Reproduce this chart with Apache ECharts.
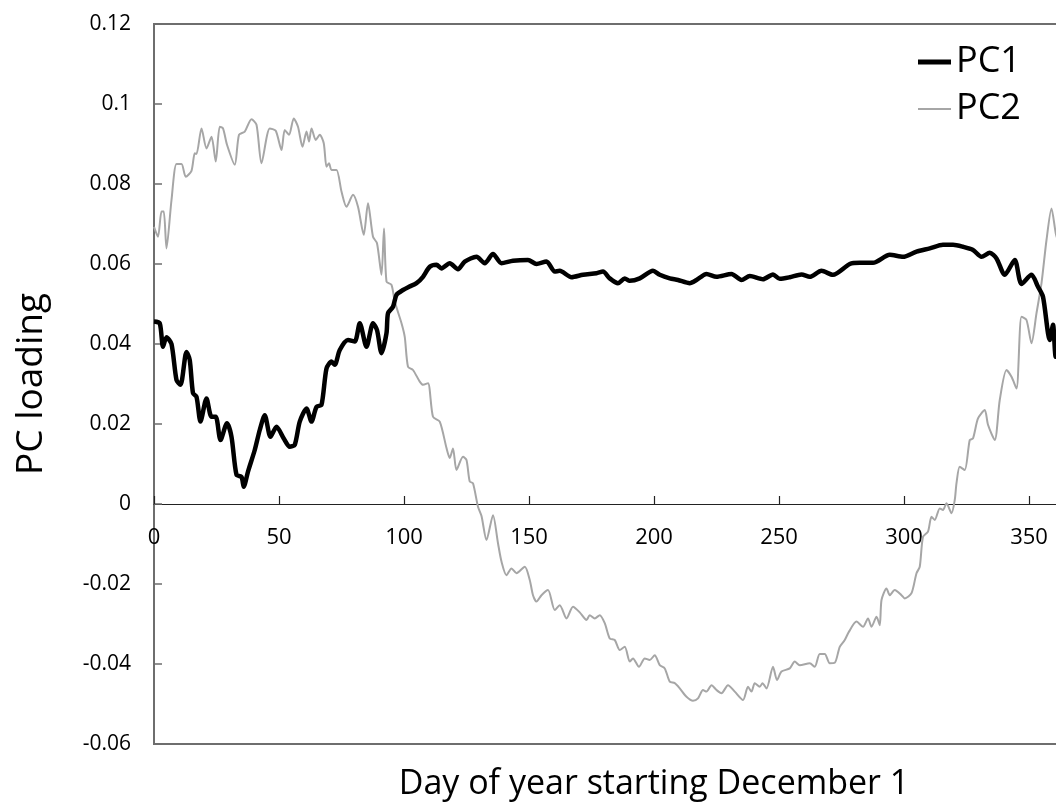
<!DOCTYPE html>
<html>
<head>
<meta charset="utf-8">
<script src="https://cdn.jsdelivr.net/npm/echarts@6/dist/echarts.min.js"></script>
<style>
html,body{margin:0;padding:0;background:#fff;}
#chart{width:1056px;height:808px;}
</style>
</head>
<body>
<div id="chart"></div>
<script>
// Day of year (starting December 1) for each PC1 reading
const pc1Days = [0,2.3,3.6,5,7,9,10.6,13,14.3,15.6,17,18.6,21,23,24.7,26.6,29.2,31,33,35,35.9,37.6,40.3,42.3,44.3,46.6,49,51.9,54.3,56.3,58.3,61,63,65,67,69,71,72.3,74.3,77.6,80.3,82.3,85,87.6,89.2,91,93,93.6,95.6,97,99.6,102,105,107.6,110.3,113,115,118.3,121.6,124.3,129,132.3,135.6,139,143.6,149.6,153,157,160.3,162.3,167,171.6,177,179.6,182.3,185.6,188.3,190.3,194.3,199.6,202.3,206.3,209.6,214.3,217,221,225,231,235,238.3,243.6,247.6,250.3,254.3,259,262.3,267,271.6,278.3,282.3,287.6,294.3,299.6,305,310.3,315.6,319.6,323.6,327.6,331,334.3,337,340.3,344.3,347,351,353.6,355.6,358.3,359.6,360.7,362];
const pc1Vals = [0.0456,0.0452,0.0393,0.0417,0.040,0.031,0.0298,0.038,0.036,0.0277,0.0268,0.0206,0.0264,0.0218,0.0218,0.016,0.0202,0.0168,0.0073,0.0068,0.0043,0.0081,0.0135,0.0185,0.0222,0.0168,0.0193,0.0164,0.0143,0.0148,0.0206,0.0239,0.0206,0.0243,0.0248,0.0339,0.0356,0.0348,0.0385,0.041,0.0406,0.0452,0.0393,0.0452,0.0435,0.0377,0.0427,0.0477,0.0493,0.0523,0.0535,0.0543,0.0552,0.0568,0.0593,0.0598,0.0589,0.0602,0.0587,0.0606,0.0618,0.0602,0.0625,0.0602,0.0608,0.061,0.060,0.0606,0.0581,0.0583,0.0567,0.0573,0.0577,0.0581,0.0564,0.0552,0.0564,0.0558,0.0564,0.0583,0.0573,0.0564,0.056,0.0552,0.056,0.0575,0.0568,0.0575,0.056,0.057,0.0562,0.0574,0.0563,0.0567,0.0574,0.0568,0.0583,0.0573,0.060,0.0603,0.0603,0.0623,0.0618,0.0631,0.0639,0.0648,0.0648,0.0643,0.0635,0.0618,0.0628,0.0614,0.0573,0.061,0.055,0.0573,0.0543,0.0518,0.041,0.0448,0.0368,0.040];

// Day of year for each PC2 reading
const pc2Days = [0,1.6,3,3.9,5,7,9,11,12.7,15,16.3,17,19,21,23,24.7,26.3,27.6,29.2,32.3,34,36.3,39,41,43,46.3,48.7,51,52.3,54,55.9,57.6,59.4,61,62,63,64.7,66.3,67.9,69,70,71,73,75,77,79.6,81.6,83.9,85.6,87.6,89.2,91,92,93,95,96.3,99,100.3,101.6,103.6,106.3,107.6,109.6,111.6,114.3,117,118.3,119.6,121,123.6,125,126.3,127.6,129.6,131,133,135.6,137.6,139,141,143,145,148.3,150.3,151.6,153,155,157.6,160.3,162.3,165,167.6,170.3,173,174.3,176.3,178.3,180.3,182.3,184.3,186.3,188.3,190.3,191.6,194,196.3,198.3,200.3,202.3,204.3,206.3,208.3,210.3,213,215.6,217.6,219.6,221,223,225,227,229.6,232.3,235.6,237.6,239,240.3,242.3,243.4,245,247.6,249.2,251,254.3,256.3,258.3,262.3,264.3,266.3,268.3,270.3,272.3,274.3,276.3,278,281,283.6,285.6,287,289,290.3,291,293,294.3,296.3,299,300.3,303,305,306.3,307.6,309.6,311,312.3,314.3,315.6,317,319,320.3,321,322.3,324.3,326.3,327.6,329.6,332.3,333.6,336.3,338.3,341,343,345,347,349,351,353,355,357,359,360.7,362];
const pc2Vals = [0.0693,0.0668,0.0731,0.0731,0.0639,0.076,0.085,0.085,0.0818,0.0833,0.0877,0.0875,0.0939,0.0889,0.0918,0.0856,0.0943,0.0939,0.0898,0.0848,0.0923,0.0931,0.0962,0.0948,0.0852,0.0939,0.0933,0.0885,0.0935,0.0923,0.0964,0.0943,0.0893,0.0931,0.0906,0.0939,0.091,0.0923,0.0902,0.0843,0.0852,0.0835,0.0835,0.0781,0.0743,0.0773,0.0743,0.0673,0.0752,0.0668,0.0652,0.0573,0.0689,0.0556,0.0548,0.0506,0.0452,0.0418,0.0343,0.0335,0.0306,0.0298,0.0302,0.0218,0.0206,0.014,0.0115,0.0139,0.0085,0.0118,0.011,0.0056,0.0052,-0.0007,-0.003,-0.009,-0.0028,-0.0098,-0.0144,-0.0178,-0.0161,-0.0173,-0.0157,-0.019,-0.0228,-0.0244,-0.0228,-0.0215,-0.0265,-0.0253,-0.0286,-0.0257,-0.0271,-0.029,-0.0278,-0.0286,-0.0278,-0.0298,-0.0336,-0.034,-0.0365,-0.0357,-0.0394,-0.0386,-0.0407,-0.0386,-0.039,-0.0378,-0.0403,-0.0411,-0.0444,-0.0448,-0.0461,-0.0482,-0.0492,-0.0486,-0.0465,-0.0469,-0.0453,-0.0465,-0.0473,-0.0453,-0.0469,-0.049,-0.0457,-0.0469,-0.0448,-0.0457,-0.0448,-0.0461,-0.0407,-0.044,-0.0419,-0.0411,-0.0394,-0.0403,-0.0398,-0.0407,-0.0375,-0.0375,-0.0398,-0.0397,-0.0357,-0.034,-0.0319,-0.0294,-0.0307,-0.0286,-0.0307,-0.0282,-0.0303,-0.024,-0.0211,-0.0228,-0.0215,-0.0228,-0.0236,-0.0223,-0.0173,-0.0157,-0.0082,-0.0069,-0.0032,-0.004,-0.0011,-0.0015,0.0002,-0.0023,0.001,0.0052,0.0093,0.0085,0.016,0.0164,0.0214,0.0235,0.0198,0.016,0.026,0.0335,0.0318,0.0289,0.0468,0.046,0.0402,0.0477,0.0552,0.066,0.0739,0.0677,0.065];

const seriesNames = ['PC1','PC2'];
const xTitle = 'Day of year starting December 1';
const yTitle = 'PC loading';
const xMin = 0, xMax = 400, xStep = 50;
const yMin = -0.06, yMax = 0.12, yStep = 0.02;

const pc1 = pc1Days.map((d,i)=>[d,pc1Vals[i]]);
const pc2 = pc2Days.map((d,i)=>[d,pc2Vals[i]]);

// grid geometry: the x axis sits at value 0, i.e. 240 px above the grid bottom
const GRID_TOP = 24, GRID_BOTTOM = 64, PLOT_H = 808 - GRID_TOP - GRID_BOTTOM;
const zeroOffset = -PLOT_H * (0 - yMin) / (yMax - yMin);

const FONT = '"Open Sans", sans-serif';
const chart = echarts.init(document.getElementById('chart'), null, {renderer:'canvas'});
chart.setOption({
  animation:false,
  backgroundColor:'#fff',
  grid:{left:154, top:GRID_TOP, right:-98, bottom:GRID_BOTTOM, show:true, borderColor:'#6e6e6e', borderWidth:2,
        backgroundColor:'transparent', containLabel:false, outerBoundsMode:'none'},
  legend:[
    {data:[{name:seriesNames[0], icon:'rect'}], left:913, top:39, itemWidth:33, itemHeight:5, orient:'vertical',
     itemStyle:{borderWidth:0}, textStyle:{fontFamily:FONT, fontSize:36, color:'#000', lineHeight:36}},
    {data:[{name:seriesNames[1], icon:'rect'}], left:913, top:86, itemWidth:33, itemHeight:2, orient:'vertical',
     itemStyle:{borderWidth:0}, textStyle:{fontFamily:FONT, fontSize:36, color:'#000', lineHeight:36}}
  ],
  xAxis:{
    type:'value', min:xMin, max:xMax, interval:xStep, position:'bottom', offset:zeroOffset,
    name:xTitle, nameLocation:'middle', nameGap:263,
    nameTextStyle:{fontFamily:FONT, fontSize:34, color:'#000'},
    axisLine:{onZero:false, lineStyle:{color:'#222', width:1.2}},
    axisTick:{inside:true, length:8, lineStyle:{color:'#222', width:1.2}},
    axisLabel:{margin:23, fontFamily:FONT, fontSize:22, color:'#000'},
    splitLine:{show:false}
  },
  yAxis:{
    type:'value', min:yMin, max:yMax, interval:yStep,
    name:yTitle, nameLocation:'middle', nameGap:104, nameRotate:90,
    nameTextStyle:{fontFamily:FONT, fontSize:37, color:'#000'},
    axisLine:{show:true, lineStyle:{color:'#6e6e6e', width:2}},
    axisTick:{show:true, inside:true, length:8, lineStyle:{color:'#6e6e6e', width:1.5}},
    axisLabel:{margin:23, fontFamily:FONT, fontSize:21, color:'#000',
      formatter:v=>String(+v.toFixed(2))},
    splitLine:{show:false}
  },
  series:[
    {name:seriesNames[0], type:'line', data:pc1, showSymbol:false, symbol:'none', smooth:0.25,
     color:'#000', lineStyle:{color:'#000', width:4.5}, z:3},
    {name:seriesNames[1], type:'line', data:pc2, showSymbol:false, symbol:'none', smooth:0.25,
     color:'#a6a6a6', lineStyle:{color:'#a6a6a6', width:2}, z:2}
  ]
});
</script>
</body>
</html>
